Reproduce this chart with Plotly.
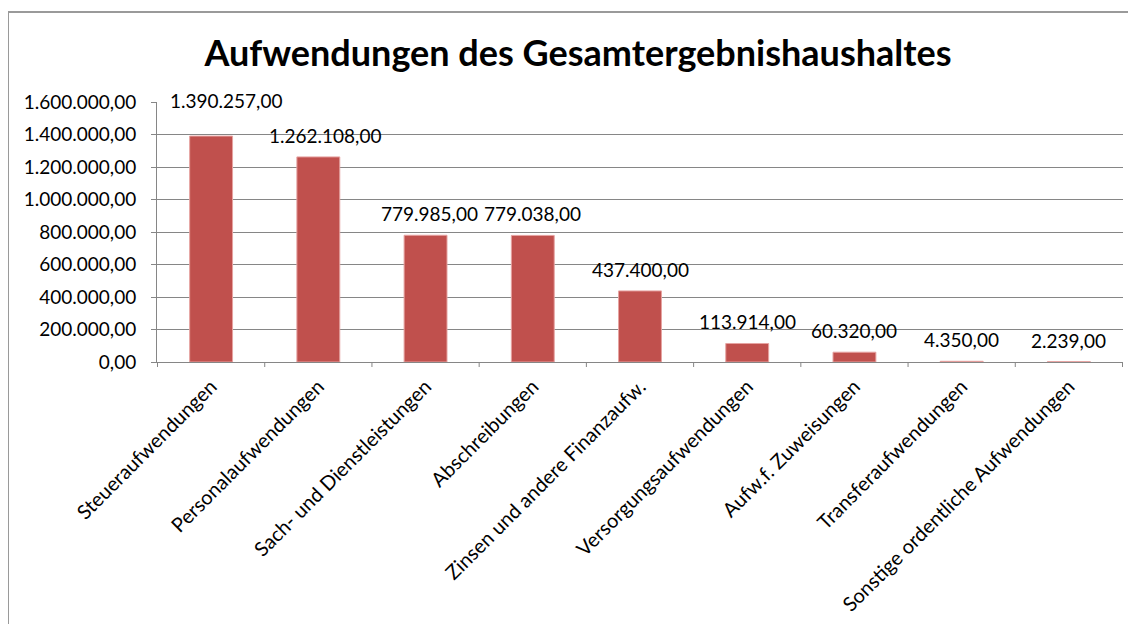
import plotly.graph_objects as go

categories = [
    "Steueraufwendungen",
    "Personalaufwendungen",
    "Sach- und Dienstleistungen",
    "Abschreibungen",
    "Zinsen und andere Finanzaufw.",
    "Versorgungsaufwendungen",
    "Aufw.f. Zuweisungen",
    "Transferaufwendungen",
    "Sonstige ordentliche Aufwendungen",
]
values = [1390257, 1262108, 779985, 779038, 437400, 113914, 60320, 4350, 2239]
label_texts = ["1.390.257,00", "1.262.108,00", "779.985,00", "779.038,00",
               "437.400,00", "113.914,00", "60.320,00", "4.350,00", "2.239,00"]
y_ticks = [0, 200000, 400000, 600000, 800000, 1000000, 1200000, 1400000, 1600000]

FONT = "Lato"
OFF = 8  # page body margin
W, H = 1136, 624
L, R, T, B = 157 - OFF, 21, 102 - OFF, 270
pw, ph = W - L - R, H - T - B

fig = go.Figure()
fig.add_trace(go.Bar(
    x=categories, y=values,
    marker=dict(color="#C0504D", line=dict(color="#E6A3A1", width=1)),
    hoverinfo="x+y",
))

yshifts = [8] * len(values)
yshifts[0] = 22
xshifts = [0] * len(values)
xshifts[0] = 15
xshifts[1] = 7
xshifts[2] = 4
for c, v, t, ys, xs in zip(categories, values, label_texts, yshifts, xshifts):
    fig.add_annotation(x=c, y=v, text=t, showarrow=False, yanchor="bottom",
                       yshift=ys, xshift=xs,
                       font=dict(family=FONT, size=19, color="#000000"))

def px_x(p):
    return (p - OFF - L) / pw

def px_y(p):
    return (H - B - (p - OFF)) / ph

fig.add_shape(type="rect", xref="paper", yref="paper",
              x0=px_x(8), x1=px_x(1160), y0=px_y(650), y1=px_y(12),
              line=dict(color="#9A9A9A", width=2), fillcolor="rgba(0,0,0,0)", layer="below")

fig.update_layout(
    width=W, height=H,
    margin=dict(l=L, r=R, t=T, b=B, pad=0),
    paper_bgcolor="white", plot_bgcolor="white",
    separators=",.",
    bargap=0.6,
    showlegend=False,
    font=dict(family=FONT, size=19, color="#000000"),
    title=dict(text="<b>Aufwendungen des Gesamtergebnishaushaltes</b>",
               x=(578 - OFF) / W, xanchor="center", y=1 - (53 - OFF) / H, yanchor="middle",
               font=dict(family=FONT, size=36, color="#000000")),
    xaxis=dict(
        type="category", tickangle=-45, showgrid=False,
        showline=True, linecolor="#868686", linewidth=1,
        ticks="", tickfont=dict(family=FONT, size=20),
        ticklabelstandoff=4,
    ),
    yaxis=dict(
        range=[0, 1600000], tickvals=y_ticks, tickformat=",.2f",
        showgrid=True, gridcolor="#868686", gridwidth=1,
        showline=True, linecolor="#868686", linewidth=1,
        ticks="outside", ticklen=5, tickcolor="#868686",
        tickfont=dict(family=FONT, size=19), zeroline=False,
        ticklabelstandoff=11,
    ),
)

# category boundary tick marks below the x axis
for i in range(len(categories) + 1):
    fig.add_shape(type="line", xref="x", yref="paper",
                  x0=i - 0.5, x1=i - 0.5, y0=0, y1=-5 / ph,
                  line=dict(color="#868686", width=1))

fig.write_html("out.html")
